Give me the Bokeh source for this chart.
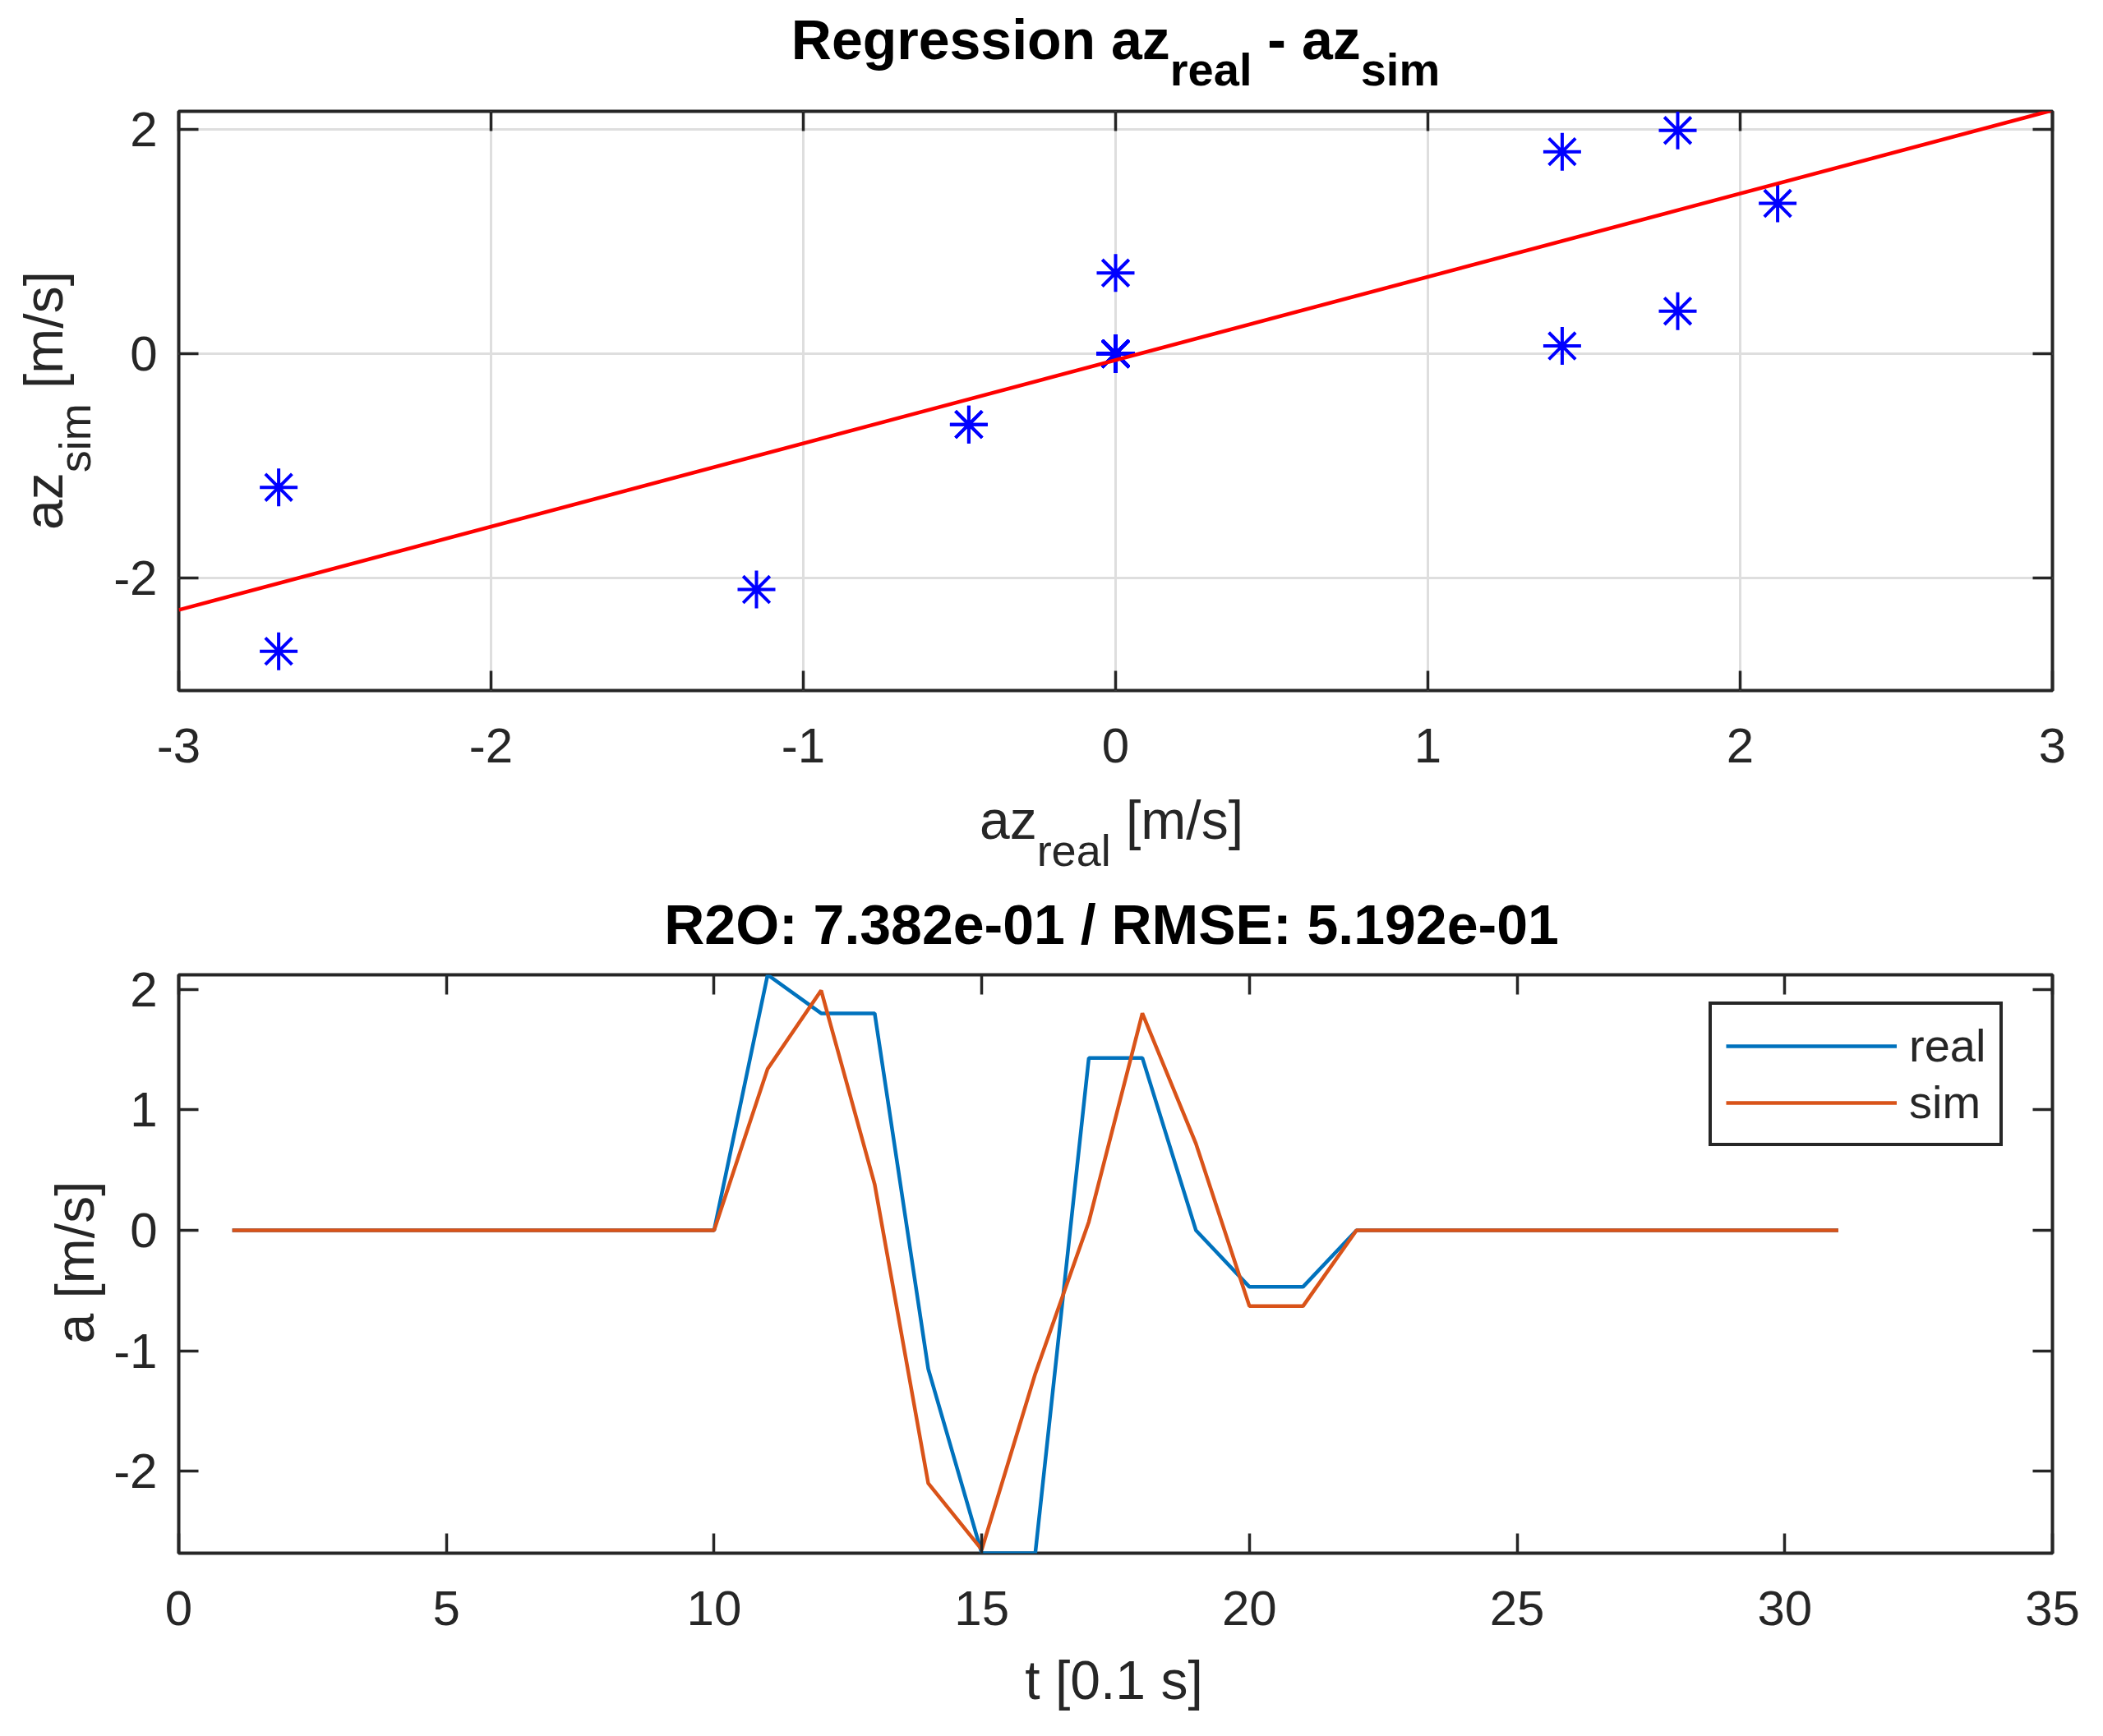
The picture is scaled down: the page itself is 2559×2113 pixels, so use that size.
import math
import numpy as np
from bokeh.plotting import figure
from bokeh.models import Range1d, LinearAxis, FixedTicker, Label, Legend, LegendItem
from bokeh.layouts import column, row
from bokeh.embed import file_html
from bokeh.resources import INLINE

# ---------------- data ----------------
t = [1, 2, 3, 4, 5, 6, 7, 8, 9, 10, 11, 12, 13, 14, 15, 16, 17, 18, 19, 20,
     21, 22, 23, 24, 25, 26, 27, 28, 29, 30, 31]
a_real = [0, 0, 0, 0, 0, 0, 0, 0, 0, 0,
          2.12, 1.80, 1.80, -1.15, -2.68, -2.68, 1.43, 1.43, 0.0, -0.47,
          -0.47, 0, 0, 0, 0, 0, 0, 0, 0, 0, 0]
a_sim = [0, 0, 0, 0, 0, 0, 0, 0, 0, 0,
         1.34, 1.99, 0.38, -2.10, -2.65, -1.19, 0.07, 1.80, 0.72, -0.63,
         -0.63, 0, 0, 0, 0, 0, 0, 0, 0, 0, 0]

top_xlim = [-3, 3]
top_ylim = [-3, 2.16]
bot_xlim = [0, 35]

top_xticks = [-3, -2, -1, 0, 1, 2, 3]
top_xlabels = ["-3", "-2", "-1", "0", "1", "2", "3"]
top_yticks = [-2, 0, 2]
top_ylabels = ["-2", "0", "2"]
bot_xticks = [0, 5, 10, 15, 20, 25, 30, 35]
bot_xlabels = ["0", "5", "10", "15", "20", "25", "30", "35"]
bot_yticks = [-2, -1, 0, 1, 2]
bot_ylabels = ["-2", "-1", "0", "1", "2"]

title_bottom = "R2O: 7.382e-01 / RMSE: 5.192e-01"

# ---------------- styles / layout ----------------
FONT = "Liberation Sans"
AX = "#262626"
C_REAL = "#0072BD"
C_SIM = "#D95319"
PAGE_W = 2559
YL_W = 133            # width of the y-label strip
PW = PAGE_W - YL_W    # width of each plot figure
FRAME_W = 2280
PLOT_LEFT = 84
PLOT_RIGHT = PW - PLOT_LEFT - FRAME_W

P1_TOP, P1_FH, P1_BOT = 15, 705, 120
P2_TOP, P2_FH, P2_BOT = 22, 704, 114
T1_H = 120
P1_H = P1_TOP + P1_FH + P1_BOT
MID_H = 204
P2_H = P2_TOP + P2_FH + P2_BOT
X2_H = 105
SHIFT = 0.37   # correction of Bokeh's label baseline placement (in em)

W_REG = {' ': 278, '[': 278, ']': 278, '/': 278, 'a': 556, 'z': 500, 'r': 333,
         'e': 556, 'l': 222, 's': 500, 'i': 222, 'm': 833, 't': 278, '.': 278}
W_BOLD = {' ': 278, 'R': 722, 'e': 556, 'g': 611, 'r': 389, 's': 556, 'i': 278,
          'o': 611, 'n': 611, 'a': 556, 'z': 500, '-': 333, 'l': 278, 'm': 889,
          'O': 778, ':': 333, '.': 278, '/': 278, 'M': 833, 'S': 667, 'E': 667}


def text_w(s, size, bold):
    tab = W_BOLD if bold else W_REG
    return sum(tab.get(c, 556) for c in s) * size / 1000.0


def text_fig(w, h, y0=None, y1=None):
    # data coordinates == local pixel coordinates (y downward)
    if y0 is None:
        y0, y1 = 0, h
    f = figure(width=w, height=h, x_range=Range1d(0, w), y_range=Range1d(y1, y0),
               output_backend="svg", toolbar_location=None,
               x_axis_type=None, y_axis_type=None,
               min_border=0, min_border_left=0, min_border_right=0,
               min_border_top=0, min_border_bottom=0)
    f.outline_line_color = None
    f.background_fill_color = "white"
    f.border_fill_color = "white"
    return f


def add_text(f, parts, cx, cy, bold=False, vertical=False, color=AX):
    total = sum(text_w(s, sz, bold) for s, sz, dy in parts)
    pos = -total / 2.0
    for s, sz, dy in parts:
        core = s.strip()
        lead = text_w(s[:len(s) - len(s.lstrip())], sz, bold)
        wc = text_w(core, sz, bold)
        mid_along = pos + lead + wc / 2.0
        d = dy - SHIFT * sz
        if vertical:
            x, y, ang = cx + d, cy - mid_along, math.pi / 2
        else:
            x, y, ang = cx + mid_along, cy + d, 0
        f.add_layout(Label(x=x, y=y, text=core, angle=ang,
                           text_align="center", text_baseline="alphabetic",
                           text_font=FONT, text_font_size=f"{sz}px",
                           text_font_style="bold" if bold else "normal",
                           text_color=color))
        pos += text_w(s, sz, bold)


def style_axis(ax, ticks, labels, show_labels=True):
    ax.ticker = FixedTicker(ticks=ticks)
    ax.major_tick_in = 24
    ax.major_tick_out = 0
    ax.minor_tick_line_color = None
    ax.major_tick_line_color = AX
    ax.major_tick_line_width = 3.5
    ax.axis_line_color = None
    ax.major_label_text_font = FONT
    ax.major_label_text_color = AX
    if show_labels:
        ax.major_label_text_font_size = "60px"
        ax.major_label_overrides = {v: lab for v, lab in zip(ticks, labels)}
    else:
        ax.major_label_text_font_size = "0px"
        ax.major_label_standoff = 0
        ax.major_label_overrides = {v: "" for v in ticks}


def make_fig(h, top, bottom, xr, yr, xt, xl, yt, yl):
    p = figure(width=PW, height=h, x_range=Range1d(*xr), y_range=Range1d(*yr),
               output_backend="svg", toolbar_location=None,
               min_border_left=PLOT_LEFT, min_border_right=PLOT_RIGHT,
               min_border_top=top, min_border_bottom=bottom)
    p.outline_line_color = AX
    p.outline_line_width = 4
    p.background_fill_color = "white"
    p.border_fill_color = "white"
    style_axis(p.xaxis[0], xt, xl)
    style_axis(p.yaxis[0], yt, yl)
    p.xaxis[0].major_label_standoff = 46
    p.yaxis[0].major_label_standoff = 26
    ax_top = LinearAxis()
    style_axis(ax_top, xt, xl, show_labels=False)
    ax_right = LinearAxis()
    style_axis(ax_right, yt, yl, show_labels=False)
    p.add_layout(ax_top, "above")
    p.add_layout(ax_right, "right")
    return p


# ---------------- top: regression ----------------
p1 = make_fig(P1_H, P1_TOP, P1_BOT, top_xlim, top_ylim,
              top_xticks, top_xlabels, top_yticks, top_ylabels)
p1.xgrid.ticker = FixedTicker(ticks=top_xticks)
p1.ygrid.ticker = FixedTicker(ticks=top_yticks)
p1.grid.grid_line_color = "#dedede"
p1.grid.grid_line_width = 3

p1.scatter(a_real, a_sim, marker="asterisk", size=46, line_color="#0000FF",
           line_width=4)
coef = np.polyfit(np.array(a_real), np.array(a_sim), 1)
reg_x = np.array(top_xlim, dtype=float)
reg_y = np.polyval(coef, reg_x)
p1.line(reg_x, reg_y, line_color="#FF0000", line_width=4.5)

# ---------------- bottom: time series ----------------
lo = min(min(a_real), min(a_sim))
hi = max(max(a_real), max(a_sim))
p2 = make_fig(P2_H, P2_TOP, P2_BOT, bot_xlim, [lo, hi],
              bot_xticks, bot_xlabels, bot_yticks, bot_ylabels)
p2.grid.visible = False
r1 = p2.line(t, a_real, line_color=C_REAL, line_width=4.5)
r2 = p2.line(t, a_sim, line_color=C_SIM, line_width=4.5)

legend = Legend(items=[LegendItem(label="real", renderers=[r1]),
                       LegendItem(label="sim", renderers=[r2])],
                location=(1862, 495))
legend.label_text_font = FONT
legend.label_text_font_size = "56px"
legend.label_text_color = AX
legend.glyph_width = 208
legend.glyph_height = 60
legend.label_standoff = 15
legend.padding = 17
legend.spacing = 4
legend.margin = 0
legend.border_line_color = AX
legend.border_line_alpha = 1.0
legend.border_line_width = 4
legend.background_fill_color = "white"
legend.background_fill_alpha = 1.0
p2.add_layout(legend)

# ---------------- text strips (page pixel positions) ----------------
t1 = text_fig(PAGE_W, T1_H)
add_text(t1, [("Regression az", 68, 0), ("real", 56, 32), (" - az", 68, 0), ("sim", 56, 32)],
         1357, 73, bold=True, color="#000000")

# the y-label strips share the frame of the plot next to them in the row
y1 = text_fig(YL_W, P1_H, P1_TOP, P1_TOP + P1_FH)
add_text(y1, [("az", 66, 0), ("sim", 54, 33), (" [m/s]", 66, 0)], 77, 487 - T1_H, vertical=True)

mid_top = T1_H + P1_H
mid = text_fig(PAGE_W, MID_H)
add_text(mid, [("az", 66, 0), ("real", 54, 32), (" [m/s]", 66, 0)], 1352, 1022 - mid_top)
add_text(mid, [(title_bottom, 68, 0)], 1352, 1150 - mid_top, bold=True, color="#000000")

p2_top = mid_top + MID_H
y2 = text_fig(YL_W, P2_H, P2_TOP, P2_TOP + P2_FH)
add_text(y2, [("a [m/s]", 66, 0)], 115, 1536 - p2_top, vertical=True)

x2_top = p2_top + P2_H
x2 = text_fig(PAGE_W, X2_H)
add_text(x2, [("t [0.1 s]", 66, 0)], 1355, 2069 - x2_top)

layout = column(t1, row(y1, p1), mid, row(y2, p2), x2)
open("out.html", "w").write(file_html(layout, INLINE))
